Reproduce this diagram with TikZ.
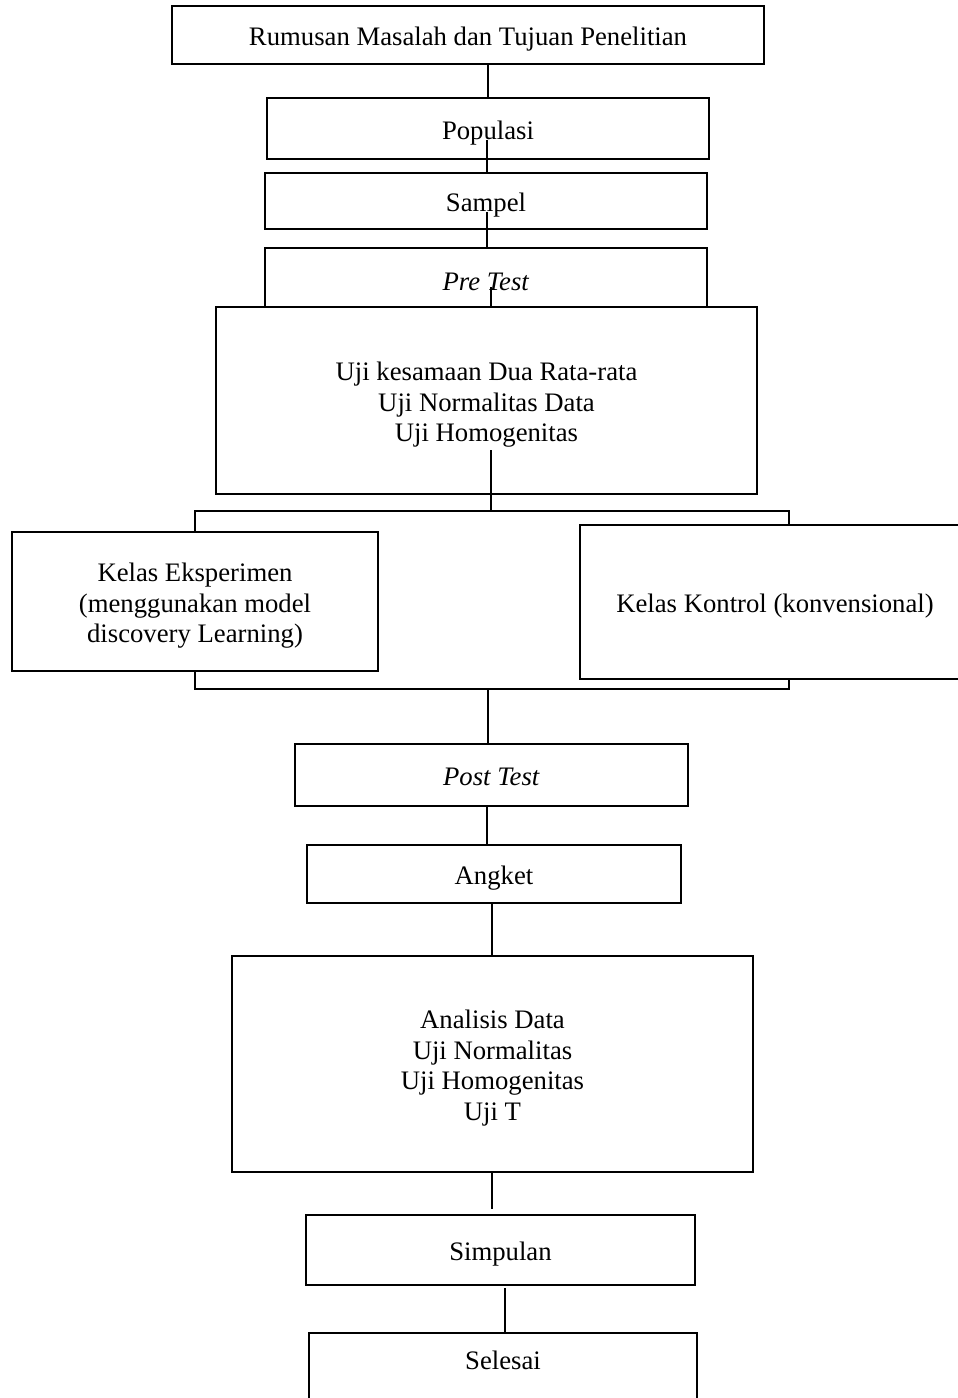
\documentclass[tikz,border=0pt]{standalone}
\usepackage{fontspec}
\setmainfont{Liberation Serif}
\newcommand{\tf}{\fontsize{26.7}{30.7}\selectfont}
\newcommand{\sth}{\rule{0pt}{27pt}}
\newcommand{\std}{\rule[-6pt]{0pt}{6pt}}
\begin{document}
\begin{tikzpicture}[x=1pt,y=-1pt,
  box/.style={draw=black, line width=2.8pt, fill=white, inner sep=0pt, outer sep=0pt, align=center, font=\tf},
  conn/.style={draw=black, line width=1.1pt},
  lbl/.style={inner sep=0pt, align=center, font=\tf}]
\useasboundingbox (0,0) rectangle (958,1398);
\clip (0,0) rectangle (958,1398);
\fill[white] (0,0) rectangle (958,1398);

\node[box, minimum width=592, minimum height=58] (top) at (468,35) {\sth Rumusan Masalah dan Tujuan Penelitian\std};
\node[box, minimum width=442, minimum height=61] (pop) at (488,128.5) {\sth Populasi\std};
\node[box, minimum width=442, minimum height=56] (sam) at (486,201) {\sth Sampel\std};
\node[box, minimum width=442, minimum height=64] (pre) at (486,280) {\sth\textit{Pre Test}\std};
\node[box, minimum width=541, minimum height=187] (uji) at (486.5,400.5) {\sth Uji kesamaan Dua Rata-rata\\Uji Normalitas Data\\Uji Homogenitas\std};
\node[box, minimum width=594, minimum height=178] (big) at (492,600) {};
\node[box, minimum width=366, minimum height=139] (eks) at (195,601.5) {\sth Kelas Eksperimen\\(menggunakan model\\discovery Learning)\std};
\node[box, minimum width=390, minimum height=154] (kon) at (775,602) {\sth Kelas Kontrol (konvensional)\std};
\node[box, minimum width=393, minimum height=62] (post) at (491.5,775) {\sth\textit{Post Test}\std};
\node[box, minimum width=374, minimum height=58] (ang) at (494,874) {\sth Angket\std};
\node[box, minimum width=521, minimum height=216] (ana) at (492.5,1064) {\sth Analisis Data\\Uji Normalitas\\Uji Homogenitas\\Uji T\std};
\node[box, minimum width=389, minimum height=70] (sim) at (500.5,1250) {\sth Simpulan\std};
\node[box, minimum width=388, minimum height=90, anchor=north] (sel) at (503,1333) {};
\node[lbl] (seltext) at (503,1360) {Selesai};

\coordinate (c1) at (488,64);
\coordinate (c2) at (487,140);
\coordinate (c3) at (487,212);
\coordinate (c4) at (491,287);
\coordinate (c5) at (491,450);
\coordinate (c6) at (488,689);
\coordinate (c7) at (487,806);
\coordinate (c8) at (492,903);
\coordinate (c9) at (492,1172);
\coordinate (c9e) at (492,1209);
\coordinate (c10) at (505,1288);

\draw[conn] (c1) -- (c1 |- pop.north);
\draw[conn] (c2) -- (c2 |- sam.north);
\draw[conn] (c3) -- (c3 |- pre.north);
\draw[conn] (c4) -- (c4 |- uji.north);
\draw[conn] (c5) -- (c5 |- big.north);
\draw[conn] (c6) -- (c6 |- post.north);
\draw[conn] (c7) -- (c7 |- ang.north);
\draw[conn] (c8) -- (c8 |- ana.north);
\draw[conn] (c9) -- (c9e);
\draw[conn] (c10) -- (c10 |- sel.north);
\end{tikzpicture}
\end{document}
